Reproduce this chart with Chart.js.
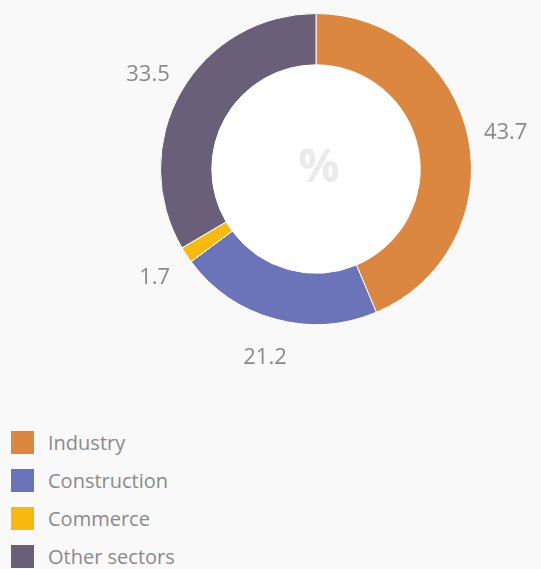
<!DOCTYPE html>
<html>
<head>
<meta charset="utf-8">
<script src="https://cdn.jsdelivr.net/npm/chart.js@4/dist/chart.umd.min.js"></script>
<style>
  html, body { margin:0; padding:0; background:#f9f9f9; width:541px; height:569px; overflow:hidden; font-family:"Open Sans", sans-serif; }
  #wrap { position:absolute; left:0; top:0; width:541px; height:400px; }
  #legend { position:absolute; left:11px; top:431px; margin:0; padding:0; list-style:none; }
  #legend li { height:38px; display:flex; align-items:flex-start; color:#8a8a8a; font-size:20px; }
  #legend .box { width:23px; height:23px; margin-right:14px; flex:none; }
  #legend .txt { line-height:23px; }
</style>
</head>
<body>
<div id="wrap"><canvas id="c"></canvas></div>
<ul id="legend"></ul>
<script>
const categories = ["Industry", "Construction", "Commerce", "Other sectors"];
const values = [43.7, 21.2, 1.7, 33.5];
const valueLabels = ["43.7", "21.2", "1.7", "33.5"];
const colors = ["#dc8740", "#6b74b8", "#f9ba10", "#695f78"];
const centerText = "%";

const outerLabels = {
  id: "outerLabels",
  afterDatasetsDraw(chart) {
    const ctx = chart.ctx;
    const meta = chart.getDatasetMeta(0);
    ctx.save();
    ctx.font = "22px 'Open Sans', sans-serif";
    ctx.fillStyle = "#8a8a8a";
    ctx.textAlign = "center";
    ctx.textBaseline = "middle";
    meta.data.forEach((arc, i) => {
      const p = arc.getProps(["x","y","startAngle","endAngle","outerRadius"], true);
      const mid = (p.startAngle + p.endAngle) / 2;
      const r = p.outerRadius + 38;
      ctx.fillText(valueLabels[i], p.x + Math.cos(mid) * r, p.y + Math.sin(mid) * r + 2);
    });
    const a = meta.data[0];
    ctx.font = "bold 46px 'Open Sans', sans-serif";
    ctx.fillStyle = "#eaeaea";
    ctx.fillText(centerText, a.x + 3, a.y);
    ctx.restore();
  }
};

const whiteCenter = {
  id: "whiteCenter",
  beforeDatasetsDraw(chart) {
    const a = chart.getDatasetMeta(0).data[0];
    const ctx = chart.ctx;
    ctx.save();
    ctx.fillStyle = "#ffffff";
    ctx.beginPath();
    ctx.arc(a.x, a.y, a.innerRadius + 1, 0, Math.PI * 2);
    ctx.fill();
    ctx.restore();
  }
};

new Chart(document.getElementById("c"), {
  type: "doughnut",
  data: {
    labels: categories,
    datasets: [{
      data: values,
      backgroundColor: colors,
      borderColor: "#ffffff",
      borderWidth: 1
    }]
  },
  options: {
    responsive: true,
    maintainAspectRatio: false,
    animation: false,
    cutout: "67%",
    layout: { padding: { left: 160, right: 69, top: 13, bottom: 75 } },
    plugins: { legend: { display: false }, tooltip: { enabled: false } }
  },
  plugins: [whiteCenter, outerLabels]
});

const legend = document.getElementById("legend");
categories.forEach((c, i) => {
  const li = document.createElement("li");
  li.innerHTML = '<span class="box" style="background:' + colors[i] + '"></span><span class="txt">' + c + '</span>';
  legend.appendChild(li);
});
</script>
</body>
</html>
